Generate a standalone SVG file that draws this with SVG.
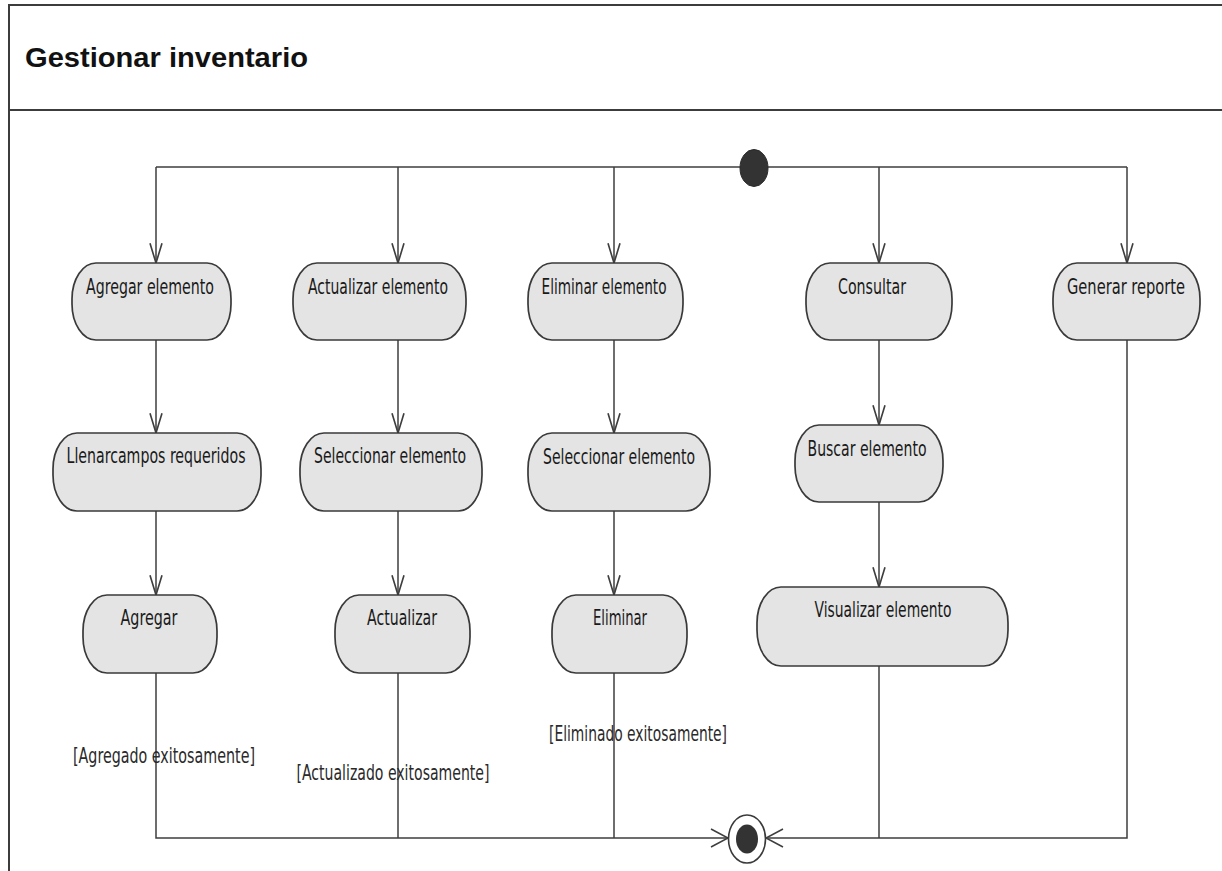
<svg xmlns="http://www.w3.org/2000/svg" width="1222" height="871" viewBox="0 0 1222 871">
  <style>
    .frame { fill: none; stroke: #3c3c3c; stroke-width: 2; }
    .title { font-family: "Liberation Sans", Arial, sans-serif; font-weight: bold; font-size: 28px; fill: #111; }
    .act { fill: #e4e4e4; stroke: #3a3a3a; stroke-width: 1.7; }
    .lbl { font-family: "DejaVu Sans Condensed", "Liberation Sans Narrow", "DejaVu Sans", sans-serif; font-stretch: condensed; font-size: 16px; fill: #1a1a1a; }
    .flow { fill: none; stroke: #3e3e3e; stroke-width: 1.5; }
    .guard { font-family: "DejaVu Sans Condensed", "Liberation Sans Narrow", "DejaVu Sans", sans-serif; font-stretch: condensed; font-size: 16px; fill: #2a2a2a; }
  </style>
  <defs>
    <marker id="arrowV" markerUnits="userSpaceOnUse" markerWidth="24" markerHeight="24" viewBox="-20 -10 22 20" refX="0" refY="0" orient="auto">
      <path d="M-18,-5.5 L0,0 L-18,5.5" fill="none" stroke="#3e3e3e" stroke-width="1.5"/>
    </marker>
    <marker id="arrowH" markerUnits="userSpaceOnUse" markerWidth="24" markerHeight="24" viewBox="-20 -12 22 24" refX="0" refY="0" orient="auto">
      <path d="M-17,-9 L0,0 L-17,9" fill="none" stroke="#3e3e3e" stroke-width="1.5"/>
    </marker>
  </defs>

  <rect width="1222" height="871" fill="#ffffff"/>

  <!-- frame with title compartment -->
  <g id="frame">
    <path class="frame" d="M9,871 V5 H1230 M9,110 H1230"/>
    <text class="title" x="25" y="67" textLength="283" lengthAdjust="spacingAndGlyphs">Gestionar inventario</text>
  </g>

  <!-- control flows -->
  <g id="connectors">
    <path class="flow" d="M156,167 H1127"/>
    <path class="flow" d="M156,167 V263" marker-end="url(#arrowV)"/>
    <path class="flow" d="M398,167 V263" marker-end="url(#arrowV)"/>
    <path class="flow" d="M614,167 V263" marker-end="url(#arrowV)"/>
    <path class="flow" d="M879,167 V263" marker-end="url(#arrowV)"/>
    <path class="flow" d="M1127,167 V263" marker-end="url(#arrowV)"/>

    <path class="flow" d="M156,340 V433" marker-end="url(#arrowV)"/>
    <path class="flow" d="M156,511 V595" marker-end="url(#arrowV)"/>
    <path class="flow" d="M156,673 V838 H728" marker-end="url(#arrowH)"/>

    <path class="flow" d="M398,340 V433" marker-end="url(#arrowV)"/>
    <path class="flow" d="M398,511 V595" marker-end="url(#arrowV)"/>
    <path class="flow" d="M398,673 V838"/>

    <path class="flow" d="M614,340 V433" marker-end="url(#arrowV)"/>
    <path class="flow" d="M614,511 V595" marker-end="url(#arrowV)"/>
    <path class="flow" d="M614,673 V838"/>

    <path class="flow" d="M879,340 V425" marker-end="url(#arrowV)"/>
    <path class="flow" d="M879,502 V587" marker-end="url(#arrowV)"/>
    <path class="flow" d="M879,666 V838"/>

    <path class="flow" d="M1127,340 V838 H766" marker-end="url(#arrowH)"/>

    <!-- guard conditions -->
    <text class="guard" transform="translate(164,763) scale(1,1.3)" text-anchor="middle" textLength="182" lengthAdjust="spacingAndGlyphs">[Agregado exitosamente]</text>
    <text class="guard" transform="translate(393,780) scale(1,1.3)" text-anchor="middle" textLength="193" lengthAdjust="spacingAndGlyphs">[Actualizado exitosamente]</text>
    <text class="guard" transform="translate(638,741) scale(1,1.3)" text-anchor="middle" textLength="178" lengthAdjust="spacingAndGlyphs">[Eliminado exitosamente]</text>
  </g>

  <!-- initial node -->
  <g id="initial">
    <ellipse cx="754" cy="168" rx="14" ry="18.5" fill="#333333" stroke="#2a2a2a" stroke-width="1"/>
  </g>

  <!-- activity final node -->
  <g id="final">
    <ellipse cx="747" cy="839" rx="18.5" ry="24" fill="#ffffff" stroke="#3a3a3a" stroke-width="1.6"/>
    <ellipse cx="747" cy="839" rx="11" ry="14.5" fill="#333333"/>
  </g>

  <!-- row 1 -->
  <g id="agregar-elemento">
    <rect class="act" x="72" y="263" width="159" height="77" rx="24" ry="36"/>
    <text class="lbl" transform="translate(150,294) scale(1,1.3)" text-anchor="middle" textLength="128" lengthAdjust="spacingAndGlyphs">Agregar elemento</text>
  </g>
  <g id="actualizar-elemento">
    <rect class="act" x="293" y="263" width="173" height="77" rx="24" ry="36"/>
    <text class="lbl" transform="translate(378,294) scale(1,1.3)" text-anchor="middle" textLength="140" lengthAdjust="spacingAndGlyphs">Actualizar elemento</text>
  </g>
  <g id="eliminar-elemento">
    <rect class="act" x="528" y="263" width="155" height="77" rx="24" ry="36"/>
    <text class="lbl" transform="translate(604,294) scale(1,1.3)" text-anchor="middle" textLength="125" lengthAdjust="spacingAndGlyphs">Eliminar elemento</text>
  </g>
  <g id="consultar">
    <rect class="act" x="806" y="263" width="146" height="77" rx="24" ry="36"/>
    <text class="lbl" transform="translate(872,294) scale(1,1.3)" text-anchor="middle" textLength="68" lengthAdjust="spacingAndGlyphs">Consultar</text>
  </g>
  <g id="generar-reporte">
    <rect class="act" x="1053" y="263" width="147" height="77" rx="24" ry="36"/>
    <text class="lbl" transform="translate(1126,294) scale(1,1.3)" text-anchor="middle" textLength="118" lengthAdjust="spacingAndGlyphs">Generar reporte</text>
  </g>

  <!-- row 2 -->
  <g id="llenar-campos">
    <rect class="act" x="53" y="433" width="208" height="78" rx="24" ry="36"/>
    <text class="lbl" transform="translate(156,463) scale(1,1.3)" text-anchor="middle" textLength="179" lengthAdjust="spacingAndGlyphs">Llenarcampos requeridos</text>
  </g>
  <g id="seleccionar-actualizar">
    <rect class="act" x="300" y="433" width="182" height="78" rx="24" ry="36"/>
    <text class="lbl" transform="translate(390,463) scale(1,1.3)" text-anchor="middle" textLength="152" lengthAdjust="spacingAndGlyphs">Seleccionar elemento</text>
  </g>
  <g id="seleccionar-eliminar">
    <rect class="act" x="528" y="433" width="182" height="78" rx="24" ry="36"/>
    <text class="lbl" transform="translate(619,464) scale(1,1.3)" text-anchor="middle" textLength="152" lengthAdjust="spacingAndGlyphs">Seleccionar elemento</text>
  </g>
  <g id="buscar-elemento">
    <rect class="act" x="795" y="425" width="148" height="77" rx="24" ry="36"/>
    <text class="lbl" transform="translate(867,456) scale(1,1.3)" text-anchor="middle" textLength="119" lengthAdjust="spacingAndGlyphs">Buscar elemento</text>
  </g>

  <!-- row 3 -->
  <g id="agregar">
    <rect class="act" x="83" y="595" width="134" height="78" rx="24" ry="36"/>
    <text class="lbl" transform="translate(149,625) scale(1,1.3)" text-anchor="middle" textLength="57" lengthAdjust="spacingAndGlyphs">Agregar</text>
  </g>
  <g id="actualizar">
    <rect class="act" x="335" y="595" width="135" height="78" rx="24" ry="36"/>
    <text class="lbl" transform="translate(402,625) scale(1,1.3)" text-anchor="middle" textLength="70" lengthAdjust="spacingAndGlyphs">Actualizar</text>
  </g>
  <g id="eliminar">
    <rect class="act" x="552" y="595" width="135" height="78" rx="24" ry="36"/>
    <text class="lbl" transform="translate(620,625) scale(1,1.3)" text-anchor="middle" textLength="54" lengthAdjust="spacingAndGlyphs">Eliminar</text>
  </g>
  <g id="visualizar-elemento">
    <rect class="act" x="757" y="587" width="251" height="79" rx="24" ry="36"/>
    <text class="lbl" transform="translate(883,617) scale(1,1.3)" text-anchor="middle" textLength="137" lengthAdjust="spacingAndGlyphs">Visualizar elemento</text>
  </g>
</svg>
